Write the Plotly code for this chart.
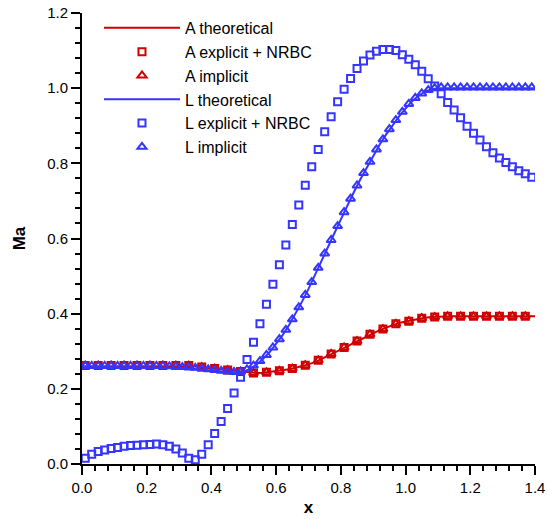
import plotly.graph_objects as go

# ---------------- data ----------------
x_theory = [0.00, 0.02, 0.04, 0.06, 0.08, 0.10, 0.12, 0.14, 0.16, 0.18,
            0.20, 0.22, 0.24, 0.26, 0.28, 0.30, 0.32, 0.34, 0.36, 0.38,
            0.40, 0.42, 0.44, 0.46, 0.48, 0.50, 0.52, 0.54, 0.56, 0.58,
            0.60, 0.62, 0.64, 0.66, 0.68, 0.70, 0.72, 0.74, 0.76, 0.78,
            0.80, 0.82, 0.84, 0.86, 0.88, 0.90, 0.92, 0.94, 0.96, 0.98,
            1.00, 1.02, 1.04, 1.06, 1.08, 1.10, 1.12, 1.14, 1.16, 1.18,
            1.20, 1.22, 1.24, 1.26, 1.28, 1.30, 1.32, 1.34, 1.36, 1.38,
            1.40]

A_theory = [0.260, 0.260, 0.260, 0.260, 0.260, 0.260, 0.260, 0.260, 0.260, 0.260,
            0.260, 0.260, 0.260, 0.260, 0.260, 0.260, 0.260, 0.260, 0.258, 0.256,
            0.254, 0.252, 0.250, 0.248, 0.246, 0.244, 0.243, 0.242, 0.243, 0.245,
            0.247, 0.249, 0.252, 0.256, 0.260, 0.265, 0.271, 0.279, 0.287, 0.295,
            0.304, 0.313, 0.322, 0.331, 0.340, 0.348, 0.356, 0.363, 0.370, 0.375,
            0.379, 0.383, 0.386, 0.389, 0.391, 0.392, 0.393, 0.393, 0.393, 0.393,
            0.393, 0.393, 0.393, 0.393, 0.393, 0.393, 0.393, 0.393, 0.393, 0.393,
            0.393]

L_theory = [0.258, 0.258, 0.258, 0.258, 0.258, 0.258, 0.258, 0.258, 0.258, 0.258,
            0.258, 0.258, 0.258, 0.257, 0.257, 0.256, 0.255, 0.254, 0.253, 0.251,
            0.249, 0.247, 0.245, 0.244, 0.243, 0.246, 0.254, 0.265, 0.280, 0.298,
            0.319, 0.343, 0.370, 0.400, 0.432, 0.466, 0.502, 0.540, 0.577, 0.614,
            0.651, 0.688, 0.723, 0.757, 0.789, 0.820, 0.850, 0.877, 0.902, 0.925,
            0.946, 0.965, 0.980, 0.991, 0.997, 1.000, 1.000, 1.000, 1.000, 1.000,
            1.000, 1.000, 1.000, 1.000, 1.000, 1.000, 1.000, 1.000, 1.000, 1.000,
            1.000]

x_A_pts = [0.01, 0.05, 0.09, 0.13, 0.17, 0.21, 0.25, 0.29, 0.33, 0.37,
           0.41, 0.45, 0.49, 0.53, 0.57, 0.61, 0.65, 0.69, 0.73, 0.77,
           0.81, 0.85, 0.89, 0.93, 0.97, 1.01, 1.05, 1.09, 1.13, 1.17,
           1.21, 1.25, 1.29, 1.33, 1.37]

A_explicit = [0.262, 0.262, 0.262, 0.262, 0.262, 0.262, 0.262, 0.262, 0.262, 0.258,
              0.254, 0.250, 0.246, 0.242, 0.244, 0.248, 0.254, 0.263, 0.276, 0.293,
              0.310, 0.327, 0.345, 0.359, 0.373, 0.380, 0.388, 0.391, 0.393, 0.393,
              0.393, 0.393, 0.393, 0.393, 0.393]

A_implicit = [0.262, 0.262, 0.262, 0.262, 0.262, 0.262, 0.262, 0.262, 0.262, 0.258,
              0.254, 0.250, 0.246, 0.242, 0.244, 0.248, 0.254, 0.263, 0.276, 0.293,
              0.310, 0.327, 0.345, 0.359, 0.373, 0.380, 0.388, 0.391, 0.393, 0.393,
              0.393, 0.393, 0.393, 0.393, 0.393]

x_L_pts = [0.01, 0.03, 0.05, 0.07, 0.09, 0.11, 0.13, 0.15, 0.17, 0.19,
           0.21, 0.23, 0.25, 0.27, 0.29, 0.31, 0.33, 0.35, 0.37, 0.39,
           0.41, 0.43, 0.45, 0.47, 0.49, 0.51, 0.53, 0.55, 0.57, 0.59,
           0.61, 0.63, 0.65, 0.67, 0.69, 0.71, 0.73, 0.75, 0.77, 0.79,
           0.81, 0.83, 0.85, 0.87, 0.89, 0.91, 0.93, 0.95, 0.97, 0.99,
           1.01, 1.03, 1.05, 1.07, 1.09, 1.11, 1.13, 1.15, 1.17, 1.19,
           1.21, 1.23, 1.25, 1.27, 1.29, 1.31, 1.33, 1.35, 1.37, 1.39]

L_explicit = [0.015, 0.026, 0.033, 0.037, 0.041, 0.044, 0.047, 0.049, 0.050, 0.051,
              0.052, 0.053, 0.051, 0.047, 0.040, 0.029, 0.015, 0.011, 0.026, 0.051,
              0.081, 0.113, 0.148, 0.189, 0.231, 0.278, 0.324, 0.373, 0.425, 0.478,
              0.530, 0.583, 0.637, 0.689, 0.742, 0.791, 0.837, 0.884, 0.924, 0.964,
              0.997, 1.026, 1.052, 1.072, 1.088, 1.098, 1.103, 1.103, 1.100, 1.089,
              1.077, 1.062, 1.045, 1.025, 1.006, 0.985, 0.962, 0.942, 0.921, 0.899,
              0.880, 0.862, 0.844, 0.828, 0.814, 0.802, 0.791, 0.780, 0.772, 0.763]

L_implicit = [0.261, 0.261, 0.261, 0.261, 0.261, 0.261, 0.261, 0.261, 0.261, 0.261,
              0.261, 0.261, 0.261, 0.260, 0.259, 0.258, 0.257, 0.256, 0.254, 0.252,
              0.250, 0.248, 0.246, 0.245, 0.246, 0.252, 0.262, 0.274, 0.290, 0.310,
              0.332, 0.357, 0.385, 0.417, 0.450, 0.484, 0.522, 0.560, 0.596, 0.633,
              0.670, 0.706, 0.741, 0.774, 0.804, 0.837, 0.864, 0.891, 0.915, 0.937,
              0.958, 0.974, 0.986, 0.995, 1.000, 1.002, 1.002, 1.002, 1.002, 1.002,
              1.002, 1.002, 1.002, 1.002, 1.002, 1.002, 1.002, 1.002, 1.002, 1.002]

x_ticks = [0.0, 0.2, 0.4, 0.6, 0.8, 1.0, 1.2, 1.4]
y_ticks = [0.0, 0.2, 0.4, 0.6, 0.8, 1.0, 1.2]

RED = "#D00000"
BLUE = "#3535FF"
FONT = "Liberation Sans, Arial, Helvetica, sans-serif"

fig = go.Figure()

fig.add_trace(go.Scatter(x=x_theory, y=A_theory, mode="lines", name="A theoretical",
                         line=dict(color=RED, width=2), legendgroup="g1"))
fig.add_trace(go.Scatter(x=x_A_pts, y=A_explicit, mode="markers", name="A explicit + NRBC",
                         marker=dict(symbol="square-open", size=7, color=RED,
                                     line=dict(color=RED, width=2)), legendgroup="g2"))
fig.add_trace(go.Scatter(x=x_A_pts, y=A_implicit, mode="markers", name="A implicit",
                         marker=dict(symbol="triangle-up-open", size=8, color=RED,
                                     line=dict(color=RED, width=2)), legendgroup="g3"))
fig.add_trace(go.Scatter(x=x_theory, y=L_theory, mode="lines", name="L theoretical",
                         line=dict(color=BLUE, width=2), legendgroup="g4"))
fig.add_trace(go.Scatter(x=x_L_pts, y=L_explicit, mode="markers", name="L explicit + NRBC",
                         marker=dict(symbol="square-open", size=7, color=BLUE,
                                     line=dict(color=BLUE, width=2)), legendgroup="g5"))
fig.add_trace(go.Scatter(x=x_L_pts, y=L_implicit, mode="markers", name="L implicit",
                         marker=dict(symbol="triangle-up-open", size=8, color=BLUE,
                                     line=dict(color=BLUE, width=2)), legendgroup="g6"))

axis_common = dict(
    showline=True, linecolor="black", linewidth=2, mirror=False,
    showgrid=False, zeroline=False, automargin=False,
    ticks="outside", ticklen=9, tickwidth=2, tickcolor="black",
    tickfont=dict(family=FONT, size=15, color="black"),
    minor=dict(ticks="outside", ticklen=5, tickwidth=1.5, tickcolor="black", dtick=0.04),
)

fig.update_xaxes(range=[0, 1.4], tickvals=x_ticks, ticktext=[f"{v:.1f}" for v in x_ticks],
                 title=dict(text="<b>x</b>", font=dict(family=FONT, size=17, color="black"),
                            standoff=6),
                 **axis_common)
fig.update_yaxes(range=[0, 1.2], tickvals=y_ticks, ticktext=[f"{v:.1f}" for v in y_ticks],
                 title=dict(text="<b>Ma</b>", font=dict(family=FONT, size=17, color="black"),
                            standoff=17),
                 **axis_common)

fig.update_layout(
    width=547, height=519,
    margin=dict(l=82, r=12, t=13, b=55, autoexpand=False),
    paper_bgcolor="white", plot_bgcolor="white",
    font=dict(family=FONT, color="black"),
    showlegend=True,
    legend=dict(x=0.0375, y=1.0045, xanchor="left", yanchor="top",
                bgcolor="rgba(0,0,0,0)", font=dict(family=FONT, size=16, color="black"),
                traceorder="grouped", tracegroupgap=0, itemwidth=76),
)

# remove the default 8px page margin so the figure fills the window exactly
fig.write_html("out.html",
               config={"displayModeBar": False},
               post_script="document.body.style.margin='0';document.body.style.overflow='hidden';")
